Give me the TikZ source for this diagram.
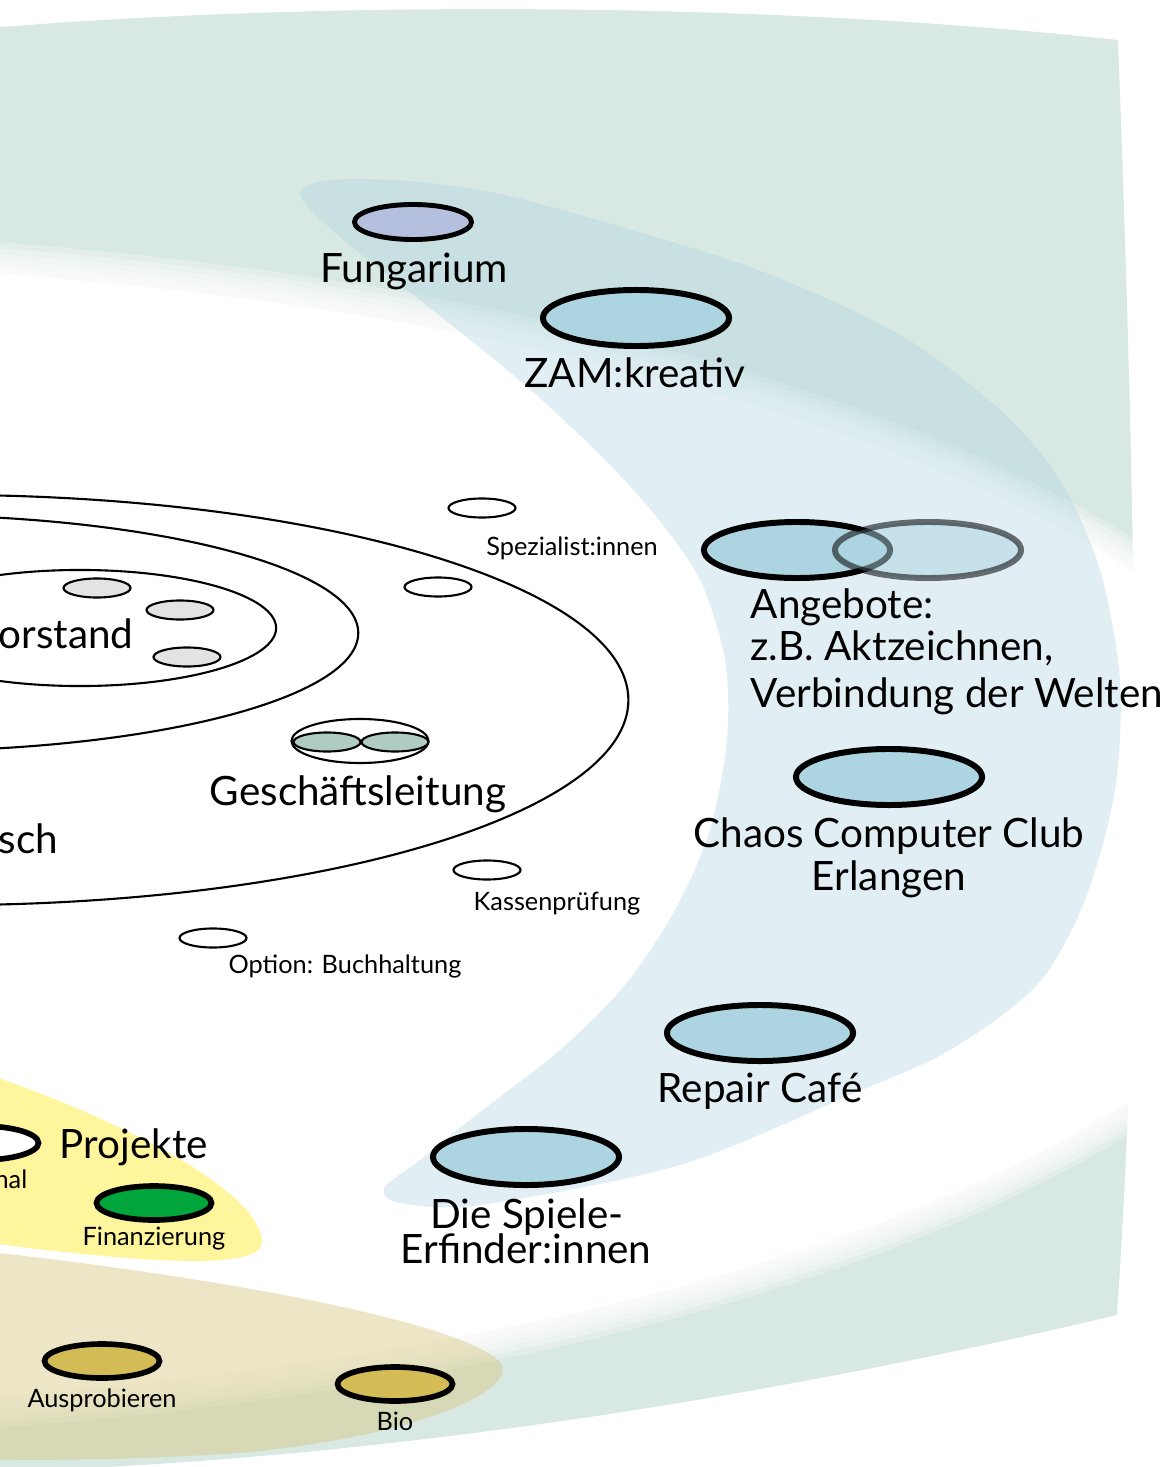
\documentclass[tikz,border=0pt]{standalone}
\usepackage{fontspec}
\setmainfont{Lato}
\usetikzlibrary{shapes.geometric}
\definecolor{bggreen}{RGB}{216,232,226}
\definecolor{ovalblue}{RGB}{173,212,225}
\definecolor{lavender}{RGB}{180,192,222}
\definecolor{projyellow}{RGB}{255,245,157}
\definecolor{areatan}{RGB}{215,200,130}
\definecolor{mustard}{RGB}{211,188,85}
\definecolor{fingreen}{RGB}{0,166,59}
\definecolor{vgray}{RGB}{227,227,227}
\definecolor{mint}{RGB}{174,205,192}

\begin{document}
\begin{tikzpicture}[x=0.01cm,y=-0.01cm,
  bigoval/.style={ellipse,draw,line width=1.7pt,fill=ovalblue,minimum width=1.86cm,minimum height=0.56cm,inner sep=0pt},
  smalloval/.style={ellipse,draw,line width=1.6pt,minimum width=1.15cm,minimum height=0.34cm,inner sep=0pt},
  thinoval/.style={ellipse,draw,line width=0.6pt,fill=white,minimum width=0.67cm,minimum height=0.19cm,inner sep=0pt},
  biglabel/.style={font=\fontsize{11.5}{13}\selectfont,inner sep=0pt,anchor=base},
  smalllabel/.style={font=\fontsize{7.2}{8.5}\selectfont,inner sep=0pt,anchor=base}]

\useasboundingbox (0,0) rectangle (1171,1467);
\clip (0,0) rectangle (1171,1467);

% background
\fill[bggreen] (-10,28) .. controls (300,2) and (750,0) .. (1118,40) .. controls (1135,500) and (1145,900) .. (1117,1315) .. controls (800,1390) and (400,1460) .. (-10,1472) -- cycle;
\foreach \d in {0,...,5}
  \fill[white,opacity=0.3] (-350,835) ellipse [x radius={17cm-\d*0.06cm}, y radius={6.05cm-\d*0.06cm}];
\fill[white] (-350,835) ellipse [x radius=16.68cm, y radius=5.73cm];

% crescent
\fill[ovalblue,opacity=0.36] plot[smooth cycle] coordinates {(300,195) (330,180) (420,182) (525,200) (750,267) (900,335) (1000,410) (1060,480) (1100,570) (1120,680) (1115,790) (1085,900) (1037,985) (950,1050) (850,1095) (680,1165) (480,1205) (400,1203) (384,1188) (420,1160) (480,1112) (560,1050) (625,985) (675,910) (710,830) (727,740) (725,660) (700,580) (655,515) (600,455) (525,385) (420,300) (340,237)};

% areas
\fill[projyellow] (-10,1075) .. controls (120,1120) and (260,1190) .. (262,1242) .. controls (262,1270) and (150,1264) .. (-10,1243) -- cycle;
\fill[areatan,opacity=0.45] (-10,1252) .. controls (200,1275) and (460,1320) .. (500,1362) .. controls (520,1390) and (420,1435) .. (250,1452) .. controls (150,1460) and (50,1460) .. (-10,1460) -- cycle;

% rings
\draw[line width=0.6pt] (-55,700) ellipse [x radius=6.83cm, y radius=2.05cm];
\draw[line width=0.6pt] (-100,633) ellipse [x radius=4.58cm, y radius=1.18cm];
\draw[line width=0.6pt] (80,628) ellipse [x radius=1.96cm, y radius=0.58cm];

\node[thinoval,fill=vgray] (vs1) at (97,588) {};
\node[thinoval,fill=vgray] (vs2) at (180,610) {};
\node[thinoval,fill=vgray] (vs3) at (187,657) {};
\node[biglabel,anchor=base east] (vstxt) at (134,648) {orstand};
\node[biglabel,anchor=base east] (schtxt) at (59,853) {sch};

\node[thinoval,minimum width=1.37cm,minimum height=0.44cm] (gl) at (360,741) {};
\node[thinoval,fill=mint] (gl1) at (327,742) {};
\node[thinoval,fill=mint] (gl2) at (395,742) {};
\node[biglabel] (gltxt) at (358,805) {Geschäftsleitung};

\node[thinoval] (spez) at (482,508) {};
\node[smalllabel] (speztxt) at (572,555) {Spezialist:innen};
\node[thinoval] (frei) at (438,587) {};
\node[thinoval] (kasse) at (487,870) {};
\node[smalllabel] (kassetxt) at (557,910) {Kassenprüfung};
\node[thinoval] (buch) at (213,938) {};
\node[smalllabel] (buchtxt) at (345,973) {Option: Buchhaltung};

\node[smalloval,line width=1.4pt,fill=lavender,minimum width=1.17cm,minimum height=0.35cm] (fung) at (413,222) {};
\node[biglabel] (fungtxt) at (414,283) {Fungarium};
\node[bigoval] (zam) at (636,318) {};
\node[biglabel] (zamtxt) at (635,387) {ZAM:kreativ};

\node[bigoval] (ang) at (797,550) {};
\node[bigoval,fill opacity=0.5,draw opacity=0.55] (welten) at (928,550) {};
\node[biglabel,anchor=base west] (angtxt1) at (750,618) {Angebote:};
\node[biglabel,anchor=base west] (angtxt2) at (750,660) {z.B. Aktzeichnen,};
\node[biglabel,anchor=base west] (angtxt3) at (750,707) {Verbindung der Welten};

\node[bigoval] (ccc) at (889,777) {};
\node[biglabel] (ccctxt1) at (889,847) {Chaos Computer Club};
\node[biglabel] (ccctxt2) at (889,890) {Erlangen};

\node[bigoval] (repair) at (760,1033) {};
\node[biglabel] (repairtxt) at (760,1102) {Repair Café};

\node[bigoval] (spiele) at (526,1157) {};
\node[biglabel] (spieletxt1) at (527,1228) {Die Spiele-};
\node[biglabel] (spieletxt2) at (526,1263) {Erfinder:innen};

\node[smalloval,fill=white] (proj) at (-19,1143) {};
\node[biglabel,anchor=base west] (projtxt) at (59,1158) {Projekte};
\node[smalllabel,anchor=base east] (naltxt) at (28,1188) {nal};
\node[smalloval,fill=fingreen] (fin) at (154,1203) {};
\node[smalllabel] (fintxt) at (154,1245) {Finanzierung};

\node[smalloval,fill=mustard] (aus) at (102,1361) {};
\node[smalllabel] (austxt) at (102,1407) {Ausprobieren};
\node[smalloval,fill=mustard] (bio) at (395,1384) {};
\node[smalllabel] (biotxt) at (395,1430) {Bio};
\end{tikzpicture}
\end{document}
